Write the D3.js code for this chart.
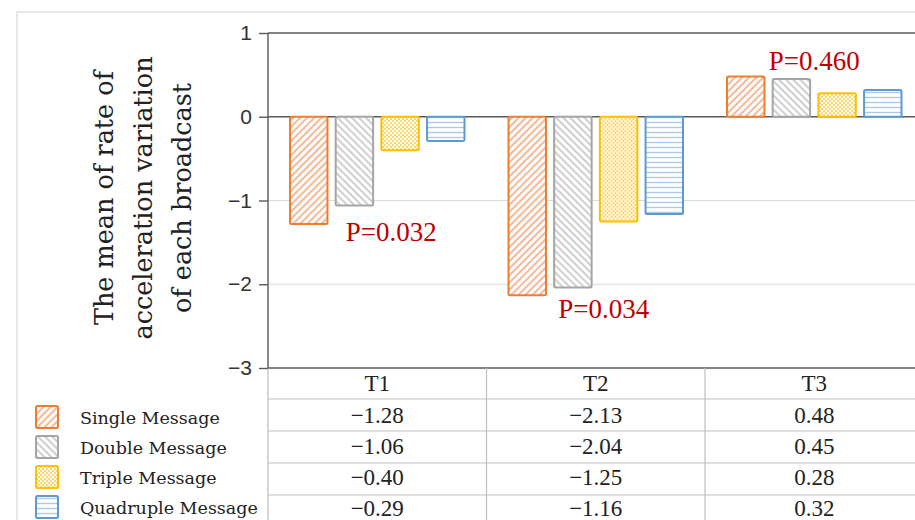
<!DOCTYPE html>
<html lang="en">
<head>
  <meta charset="UTF-8" />
  <title>Rate of acceleration variation</title>
  <style>
    body { margin: 0; background: #fff; }
    svg { display: block; }
  </style>
  <script src="https://d3js.org/d3.v7.min.js"></script>
</head>
<body>
<svg id="chart" width="915" height="520"></svg>

<script>
  // data
  const periods = ['T1', 'T2', 'T3'];
  const seriesNames = ['Single Message', 'Double Message', 'Triple Message', 'Quadruple Message'];
  const singleMsg = [-1.28, -2.13, 0.48];
  const doubleMsg = [-1.06, -2.04, 0.45];
  const tripleMsg = [-0.40, -1.25, 0.28];
  const quadMsg = [-0.29, -1.16, 0.32];
  const yTicks = [-3, -2, -1, 0, 1];
  const pLabels = ['P=0.032', 'P=0.034', 'P=0.460'];
  const pAt = [-1.48, -2.4, 0.56];   // value where each P label sits

  const seriesValues = [singleMsg, doubleMsg, tripleMsg, quadMsg];
  const colors = ['#ED7D31', '#A5A5A5', '#FFC000', '#5B9BD5'];
  const pShift = [14, 8, 0];          // small nudges of the P labels

  const serif = '"Liberation Serif", "Times New Roman", serif';
  const book = '"DejaVu Serif", serif';
  const sans = '"Liberation Sans", Arial, sans-serif';

  const svg = d3.select('#chart');
  const plotL = 268, plotT = 33, plotB = 368;

  const x = d3.scaleBand().domain(periods).range([plotL, plotL + 3 * 218.5]);
  const xs = d3.scaleBand().domain(seriesNames)
    .range([22, x.bandwidth() - 22]).paddingInner(0.18);
  const y = d3.scaleLinear().domain([-3, 1]).range([plotB, plotT]);

  // patterns
  const defs = svg.append('defs');
  function pat(id, rot, w, h) {
    const p = defs.append('pattern').attr('id', id)
      .attr('patternUnits', 'userSpaceOnUse').attr('width', w).attr('height', h);
    if (rot) p.attr('patternTransform', `rotate(${rot})`);
    p.append('rect').attr('width', w).attr('height', h).attr('fill', '#fff');
    return p;
  }
  pat('p0', 45, 5, 5).append('line')
    .attr('x1', 1).attr('y1', 0).attr('x2', 1).attr('y2', 5)
    .attr('stroke', '#F4A77A').attr('stroke-width', 1.6);
  pat('p1', -45, 5, 5).append('line')
    .attr('x1', 1).attr('y1', 0).attr('x2', 1).attr('y2', 5)
    .attr('stroke', '#C4C4C4').attr('stroke-width', 1.6);
  const py = pat('p2', 0, 4, 4);
  py.append('rect').attr('x', 0).attr('y', 0).attr('width', 2).attr('height', 2).attr('fill', '#FFD766');
  py.append('rect').attr('x', 2).attr('y', 2).attr('width', 2).attr('height', 2).attr('fill', '#FFD766');
  pat('p3', 0, 5, 5).append('line')
    .attr('x1', 0).attr('y1', 2.5).attr('x2', 5).attr('y2', 2.5)
    .attr('stroke', '#A9C9EA').attr('stroke-width', 1.3);

  // outer frame
  svg.append('rect').attr('x', 17).attr('y', 12).attr('width', 920).attr('height', 530)
    .attr('fill', 'none').attr('stroke', '#d9d9d9').attr('stroke-width', 1.2);

  // gridlines
  svg.append('g').selectAll('line').data(yTicks)
    .join('line')
    .attr('x1', plotL).attr('x2', 915)
    .attr('y1', d => y(d)).attr('y2', d => y(d))
    .attr('stroke', d => (d === -1 || d === -2) ? '#dadada' : '#595959')
    .attr('stroke-width', d => (d === -1 || d === -2) ? 1 : 1.4);

  // table grid
  const rowLines = [399, 431, 463, 495];
  const tg = svg.append('g');
  tg.selectAll('line.h').data(rowLines).join('line').attr('class', 'h')
    .attr('x1', plotL).attr('x2', 915).attr('y1', d => d).attr('y2', d => d)
    .attr('stroke', '#bfbfbf').attr('stroke-width', 1.2);
  tg.selectAll('line.v').data(periods).join('line').attr('class', 'v')
    .attr('x1', d => x(d)).attr('x2', d => x(d))
    .attr('y1', plotB).attr('y2', 520)
    .attr('stroke', '#bfbfbf').attr('stroke-width', 1.2);

  // y axis
  svg.append('line').attr('x1', plotL).attr('x2', plotL).attr('y1', plotT).attr('y2', plotB)
    .attr('stroke', '#595959').attr('stroke-width', 1.4);
  const yAxis = svg.append('g').attr('transform', `translate(${plotL},0)`)
    .call(d3.axisLeft(y).tickValues(yTicks).tickSize(9).tickPadding(7).tickFormat(d3.format('d')));
  yAxis.select('.domain').remove();
  yAxis.selectAll('.tick line').attr('stroke', '#595959').attr('stroke-width', 1.4);
  yAxis.selectAll('.tick text').attr('font-family', sans).attr('font-size', 21).attr('fill', '#333');

  // bars
  const groups = svg.append('g').selectAll('g').data(periods).join('g')
    .attr('transform', d => `translate(${x(d)},0)`);
  groups.selectAll('rect')
    .data((d, i) => seriesNames.map((s, k) => ({ s, k, v: seriesValues[k][i] })))
    .join('rect')
    .attr('x', d => xs(d.s))
    .attr('width', xs.bandwidth())
    .attr('y', d => y(Math.max(0, d.v)))
    .attr('height', d => Math.abs(y(d.v) - y(0)))
    .attr('rx', 1.5)
    .attr('fill', d => `url(#p${d.k})`)
    .attr('stroke', d => colors[d.k])
    .attr('stroke-width', 2);

  // P values
  svg.append('g').selectAll('text').data(pLabels).join('text')
    .attr('x', (d, i) => x(periods[i]) + x.bandwidth() / 2 + pShift[i])
    .attr('y', (d, i) => y(pAt[i]))
    .attr('text-anchor', 'middle')
    .attr('font-family', serif).attr('font-size', 27)
    .attr('fill', '#C00000')
    .text(d => d);

  // y label
  const ylab = svg.append('text')
    .attr('transform', 'translate(0,198) rotate(-90)')
    .attr('text-anchor', 'middle')
    .attr('font-family', book).attr('font-size', 25.5).attr('fill', '#222');
  ['The mean of rate of', 'acceleration variation', 'of each broadcast'].forEach((t, i) => {
    ylab.append('tspan').attr('x', 0).attr('y', 113 + i * 39).text(t);
  });

  // table text
  const fmt = v => (v < 0 ? '\u2212' : '') + Math.abs(v).toFixed(2);
  svg.append('g').selectAll('text').data(periods).join('text')
    .attr('x', d => x(d) + x.bandwidth() / 2).attr('y', 391)
    .attr('text-anchor', 'middle').attr('font-family', serif).attr('font-size', 23)
    .attr('fill', '#222').text(d => d);
  seriesValues.forEach((vals, k) => {
    svg.append('g').selectAll('text').data(vals).join('text')
      .attr('x', (d, i) => x(periods[i]) + x.bandwidth() / 2)
      .attr('y', 423 + k * 31)
      .attr('text-anchor', 'middle').attr('font-family', serif).attr('font-size', 23)
      .attr('fill', '#222').text(fmt);
  });

  // legend
  const lg = svg.append('g').selectAll('g').data(seriesNames).join('g')
    .attr('transform', (d, i) => `translate(36,${406 + i * 30})`);
  lg.append('rect').attr('width', 22).attr('height', 22).attr('rx', 1.5)
    .attr('fill', (d, i) => `url(#p${i})`)
    .attr('stroke', (d, i) => colors[i]).attr('stroke-width', 2);
  lg.append('text').attr('x', 44).attr('y', 18)
    .attr('font-family', book).attr('font-size', 17.5).attr('fill', '#222')
    .text(d => d);
</script>
</body>
</html>
